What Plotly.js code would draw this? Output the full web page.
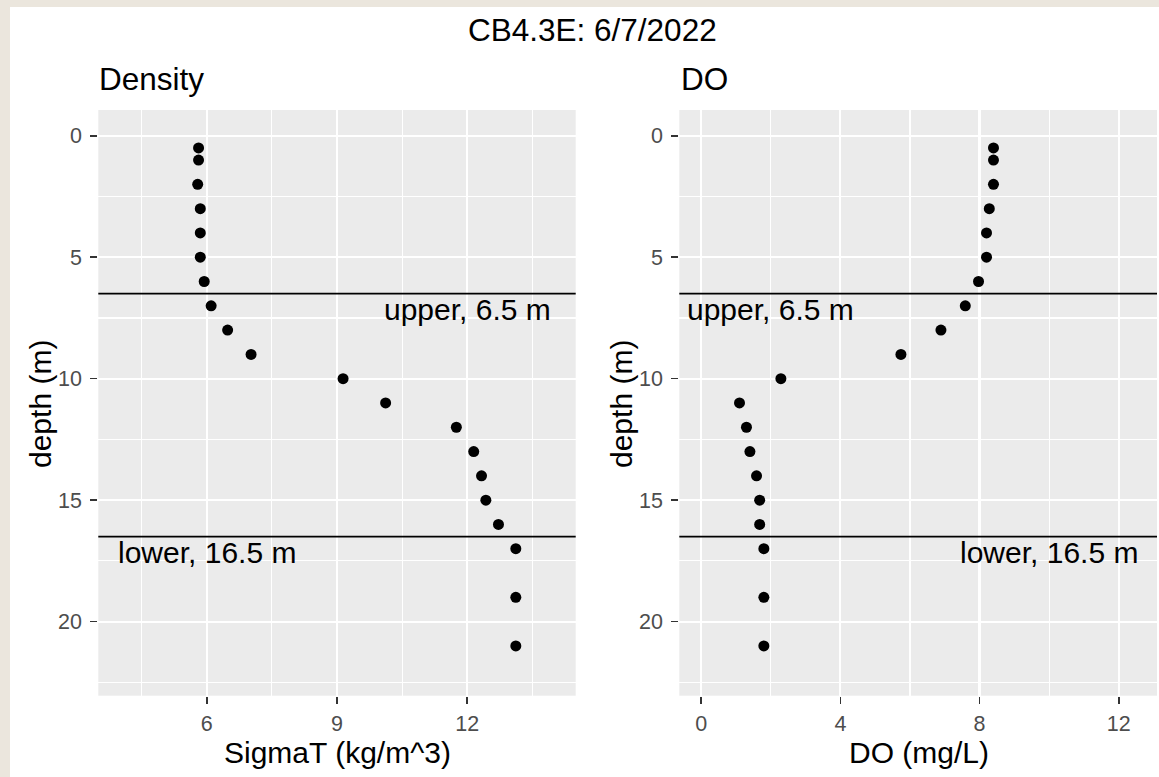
<!DOCTYPE html>
<html>
<head>
<meta charset="utf-8">
<script src="https://cdn.plot.ly/plotly-3.0.1.min.js"></script>
<style>html,body{margin:0;padding:0;background:#fff;}#chart{width:1159px;height:777px;}</style>
</head>
<body>
<div id="chart"></div>
<script>
// ---- data ----
const depth  = [0.5, 1, 2, 3, 4, 5, 6, 7, 8, 9, 10, 11, 12, 13, 14, 15, 16, 17, 19, 21];
const sigmaT = [5.81, 5.81, 5.79, 5.85, 5.85, 5.85, 5.94, 6.10, 6.48, 7.02, 9.14, 10.12, 11.75, 12.15, 12.33, 12.43, 12.72, 13.12, 13.12, 13.12];
const doVals = [8.40, 8.40, 8.40, 8.28, 8.20, 8.20, 7.97, 7.59, 6.89, 5.74, 2.29, 1.10, 1.30, 1.40, 1.59, 1.68, 1.68, 1.80, 1.80, 1.80];
const upperDepth = 6.5;
const lowerDepth = 16.5;
const upperLabel = "upper, 6.5 m";
const lowerLabel = "lower, 16.5 m";
const mainTitle = "CB4.3E: 6/7/2022";
const panelTitles = ["Density", "DO"];
const xTitles = ["SigmaT (kg/m^3)", "DO (mg/L)"];
const yTitle = "depth (m)";
const yTicks = [0, 5, 10, 15, 20];
const densityTicks = [6, 9, 12];
const doTicks = [0, 4, 8, 12];
// label anchor x values (data units)
const densityLabelX = {upper: 12, lower: 6};
const doLabelX = {upper: 2, lower: 10};

const W = 1159, H = 777;
const px = v => v / W;
const py = v => 1 - v / H;
const FONT = "Liberation Sans, Arial, sans-serif";
const tickFont = {family: FONT, size: 21.5, color: "#4d4d4d"};

const yDomain = [py(695.7), py(110)];
const baseY = {
  range: [23.05, -1.06], autorange: false,
  tickvals: yTicks, ticks: "outside", ticklen: 7, tickwidth: 1.6, tickcolor: "#333333",
  tickfont: tickFont, showgrid: true, gridcolor: "#ffffff", gridwidth: 2.2,
  minor: {tick0: 2.5, dtick: 5, showgrid: true, gridcolor: "#ffffff", gridwidth: 1.1},
  zeroline: false, showline: false, domain: yDomain, ticklabelstandoff: 4
};
const baseX = {
  ticks: "outside", ticklen: 7, tickwidth: 1.6, tickcolor: "#333333",
  tickfont: tickFont, showgrid: true, gridcolor: "#ffffff", gridwidth: 2.2,
  zeroline: false, showline: false, ticklabelstandoff: 1
};

const traces = [
  {x: sigmaT, y: depth, type: "scatter", mode: "markers", xaxis: "x", yaxis: "y",
   marker: {color: "#000000", size: 11}, hoverinfo: "x+y"},
  {x: doVals, y: depth, type: "scatter", mode: "markers", xaxis: "x2", yaxis: "y2",
   marker: {color: "#000000", size: 11}, hoverinfo: "x+y"}
];

const annFont = {family: FONT, size: 30, color: "#000000"};
const titleFont = {family: FONT, size: 31.5, color: "#000000"};
const layout = {
  width: W, height: H,
  margin: {l: 0, r: 0, t: 0, b: 0},
  paper_bgcolor: "#ffffff", plot_bgcolor: "#ebebeb",
  showlegend: false,
  xaxis: Object.assign({}, baseX, {domain: [px(98.3), px(575.7)], range: [3.5, 14.5], autorange: false,
    tickvals: densityTicks, minor: {tick0: 4.5, dtick: 3, showgrid: true, gridcolor: "#ffffff", gridwidth: 1.1}, anchor: "y"}),
  yaxis: Object.assign({}, baseY, {anchor: "x"}),
  xaxis2: Object.assign({}, baseX, {domain: [px(679.3), px(1157)], range: [-0.63, 13.1], autorange: false,
    tickvals: doTicks, minor: {tick0: 2, dtick: 4, showgrid: true, gridcolor: "#ffffff", gridwidth: 1.1}, anchor: "y2"}),
  yaxis2: Object.assign({}, baseY, {anchor: "x2"}),
  shapes: [
    {type: "rect", xref: "paper", yref: "paper", x0: 0, x1: px(10), y0: 0, y1: 1, fillcolor: "#ebe6dd", line: {width: 0}},
    {type: "rect", xref: "paper", yref: "paper", x0: 0, x1: 1, y0: py(7), y1: 1, fillcolor: "#ebe6dd", line: {width: 0}},
    {type: "line", xref: "x domain", yref: "y", x0: 0, x1: 1, y0: upperDepth, y1: upperDepth, line: {color: "#000", width: 1.7}},
    {type: "line", xref: "x domain", yref: "y", x0: 0, x1: 1, y0: lowerDepth, y1: lowerDepth, line: {color: "#000", width: 1.7}},
    {type: "line", xref: "x2 domain", yref: "y2", x0: 0, x1: 1, y0: upperDepth, y1: upperDepth, line: {color: "#000", width: 1.7}},
    {type: "line", xref: "x2 domain", yref: "y2", x0: 0, x1: 1, y0: lowerDepth, y1: lowerDepth, line: {color: "#000", width: 1.7}}
  ],
  annotations: [
    {text: mainTitle, xref: "paper", yref: "paper", x: px(592), y: py(30), xanchor: "center", yanchor: "middle", showarrow: false, font: titleFont},
    {text: panelTitles[0], xref: "paper", yref: "paper", x: px(97), y: py(79), xanchor: "left", yanchor: "middle", showarrow: false, font: titleFont},
    {text: panelTitles[1], xref: "paper", yref: "paper", x: px(679), y: py(79), xanchor: "left", yanchor: "middle", showarrow: false, font: titleFont},
    {text: xTitles[0], xref: "paper", yref: "paper", x: px(337), y: py(752), xanchor: "center", yanchor: "middle", showarrow: false, font: annFont},
    {text: xTitles[1], xref: "paper", yref: "paper", x: px(919), y: py(752), xanchor: "center", yanchor: "middle", showarrow: false, font: annFont},
    {text: yTitle, xref: "paper", yref: "paper", x: px(40), y: py(404), xanchor: "center", yanchor: "middle", textangle: -90, showarrow: false, font: annFont},
    {text: yTitle, xref: "paper", yref: "paper", x: px(621), y: py(404), xanchor: "center", yanchor: "middle", textangle: -90, showarrow: false, font: annFont},
    {text: upperLabel, xref: "x", yref: "y", x: densityLabelX.upper, y: 7.15, xanchor: "center", yanchor: "middle", showarrow: false, font: annFont},
    {text: lowerLabel, xref: "x", yref: "y", x: densityLabelX.lower, y: 17.15, xanchor: "center", yanchor: "middle", showarrow: false, font: annFont},
    {text: upperLabel, xref: "x2", yref: "y2", x: doLabelX.upper, y: 7.15, xanchor: "center", yanchor: "middle", showarrow: false, font: annFont},
    {text: lowerLabel, xref: "x2", yref: "y2", x: doLabelX.lower, y: 17.15, xanchor: "center", yanchor: "middle", showarrow: false, font: annFont}
  ]
};

Plotly.newPlot("chart", traces, layout, {displayModeBar: false, staticPlot: true});
</script>
</body>
</html>
